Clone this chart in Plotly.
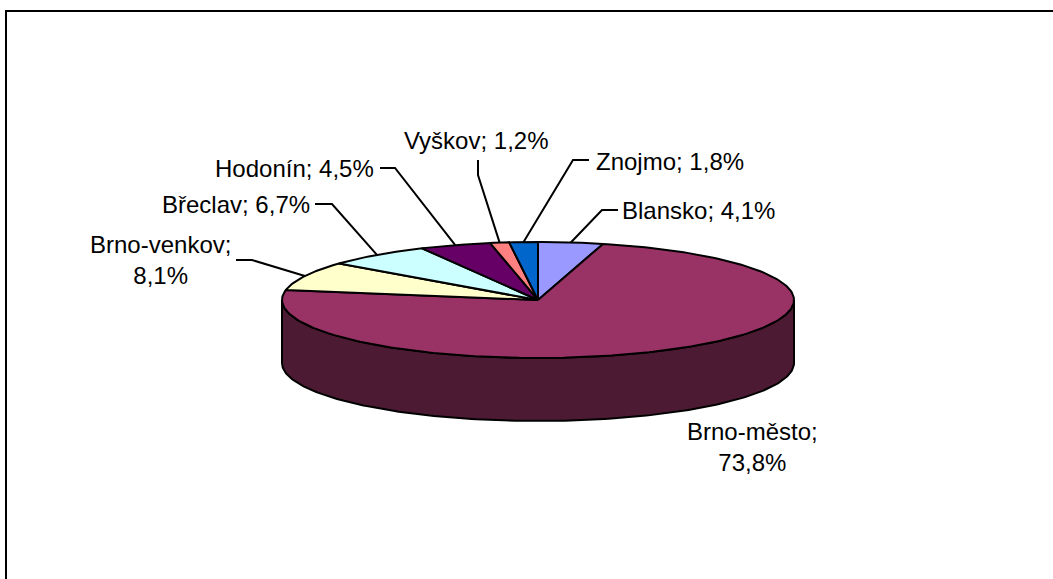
import numpy as np
import plotly.graph_objects as go

# Data
categories = ["Blansko", "Brno-město", "Brno-venkov", "Břeclav", "Hodonín", "Vyškov", "Znojmo"]
values = [4.1, 73.8, 8.1, 6.7, 4.5, 1.2, 1.8]
value_labels = ["4,1%", "73,8%", "8,1%", "6,7%", "4,5%", "1,2%", "1,8%"]

# Styles
top_colors = ["#9999FF", "#993366", "#FFFFCC", "#CCFFFF", "#660066", "#FF8080", "#0066CC"]
side_color = "#4D1A33"

# Pie geometry in page pixels
CX, CY, RX, RY, DEPTH = 538, 300, 256, 58, 63
W, H = 1053, 579
FONT = dict(family="Liberation Sans, Arial, sans-serif", size=24, color="#000000")

def pt(a, dy=0.0):
    return CX + RX * np.sin(a), CY - RY * np.cos(a) + dy

fig = go.Figure()

# Visible side of the cylinder (front half)
a = np.radians(np.linspace(90, 270, 181))
x1, y1 = pt(a)
x2, y2 = pt(a[::-1], DEPTH)
fig.add_trace(go.Scatter(
    x=np.r_[x1, x2, x1[0]], y=np.r_[y1, y2, y1[0]], mode="lines", fill="toself",
    fillcolor=side_color, line=dict(color="black", width=2), hoverinfo="skip", showlegend=False))

# Top wedges from the values
edges = np.r_[0, np.cumsum(values)] / sum(values) * 2 * np.pi
mids = (edges[:-1] + edges[1:]) / 2
for i, name in enumerate(categories):
    n = max(2, int(np.degrees(edges[i + 1] - edges[i])) + 2)
    ang = np.linspace(edges[i], edges[i + 1], n)
    ax, ay = pt(ang)
    fig.add_trace(go.Scatter(
        x=np.r_[CX, ax, CX], y=np.r_[CY, ay, CY], mode="lines", fill="toself",
        fillcolor=top_colors[i], line=dict(color="black", width=2),
        name=name, hovertemplate=f"{name}: {value_labels[i]}<extra></extra>", showlegend=False))

# Label placement: name -> (text x, text y, xanchor, leader elbow, leader end, line break)
placement = {
    "Blansko": (620, 210, "left", (602, 210), (618, 210), False),
    "Brno-město": (752, 447, "center", None, None, True),
    "Brno-venkov": (160, 260, "center", (252, 260), (236, 260), True),
    "Břeclav": (312, 204, "right", (332, 204), (315, 204), False),
    "Hodonín": (376, 168, "right", (395, 168), (380, 168), False),
    "Vyškov": (476, 140, "center", (478, 175), (478, 160), False),
    "Znojmo": (594, 161, "left", (573, 160), (589, 160), False),
}
for i, name in enumerate(categories):
    tx, ty, anchor, elbow, end, brk = placement[name]
    sep = ";<br>" if brk else "; "
    fig.add_annotation(x=tx, y=ty, xref="x", yref="y", text=f"{name}{sep}{value_labels[i]}",
                       showarrow=False, xanchor=anchor, yanchor="middle", align="center",
                       font=FONT)
    if elbow:
        sx, sy = pt(mids[i])
        fig.add_trace(go.Scatter(x=[sx, elbow[0], end[0]], y=[sy, elbow[1], end[1]], mode="lines",
                                 line=dict(color="black", width=2), hoverinfo="skip", showlegend=False))

# Chart frame (runs off the page to the right and bottom)
fig.add_shape(type="rect", xref="x", yref="y", x0=6, y0=11, x1=W + 20, y1=H + 20,
              line=dict(color="black", width=2), layer="below")

fig.update_xaxes(range=[0, W], visible=False, fixedrange=True)
fig.update_yaxes(range=[H, 0], visible=False, fixedrange=True)
fig.update_layout(width=W, height=H, margin=dict(l=0, r=0, t=0, b=0),
                  paper_bgcolor="white", plot_bgcolor="white", showlegend=False,
                  font=FONT)
fig.write_html("out.html", config=dict(displayModeBar=False),
               post_script="document.body.style.margin='0';document.body.style.overflow='hidden';")
